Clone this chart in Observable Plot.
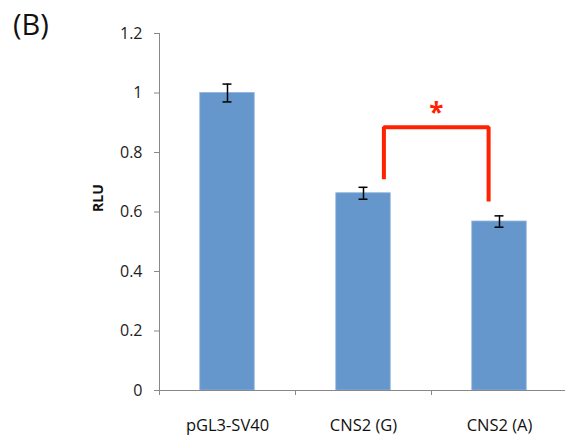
<!DOCTYPE html>
<html>
<head>
<meta charset="utf-8">
<script src="https://cdn.jsdelivr.net/npm/d3@7"></script>
<script src="https://cdn.jsdelivr.net/npm/@observablehq/plot@0.6"></script>
<style>
  html, body { margin: 0; padding: 0; background: #fff; }
  #wrap { position: relative; width: 565px; height: 439px; font-family: "Open Sans", sans-serif; }
  #panel { position: absolute; left: 13px; top: 4px; font-size: 29px; color: #111; }
</style>
</head>
<body>
<div id="wrap"><div id="panel">(B)</div></div>
<script>
const categories = ["pGL3-SV40", "CNS2 (G)", "CNS2 (A)"];
const rlu = [1.0, 0.663, 0.568];
const err = [0.03, 0.02, 0.019];
const yTicks = [0, 0.2, 0.4, 0.6, 0.8, 1.0, 1.2];
// significance bracket between CNS2 (G) and CNS2 (A)
const bracketX = [1.15, 1.92];
const bracketY = [0.71, 0.885, 0.885, 0.635];
const sigLabel = "*";

const data = categories.map((c, i) => ({ c, i, v: rlu[i], e: err[i] }));
const bracket = [
  { x: bracketX[0], y: bracketY[0] },
  { x: bracketX[0], y: bracketY[1] },
  { x: bracketX[1], y: bracketY[2] },
  { x: bracketX[1], y: bracketY[3] }
];
const half = 0.2, cap = 0.033;
const boundaries = d3.range(categories.length + 1).map(k => k - 0.5);

const chart = Plot.plot({
  width: 565,
  height: 439,
  marginTop: 33,
  marginBottom: 49,
  marginLeft: 159,
  marginRight: 0,
  style: { fontFamily: "Open Sans, sans-serif", fontSize: "16px", color: "#222", background: "transparent" },
  x: { type: "linear", domain: [-0.5, 2.5], range: [159, 567], axis: null },
  y: { domain: [0, 1.2], axis: null },
  marks: [
    Plot.rectY(data, { x1: d => d.i - half, x2: d => d.i + half, y1: 0, y2: "v", fill: "#6597cc", stroke: "#8db2dc", strokeWidth: 0.8 }),
    Plot.ruleX(data, { x: "i", y1: d => d.v - d.e, y2: d => d.v + d.e, stroke: "#000", strokeWidth: 1.5 }),
    Plot.ruleY(data, { y: d => d.v + d.e, x1: d => d.i - cap, x2: d => d.i + cap, stroke: "#000", strokeWidth: 1.5 }),
    Plot.ruleY(data, { y: d => d.v - d.e, x1: d => d.i - cap, x2: d => d.i + cap, stroke: "#000", strokeWidth: 1.5 }),
    // axes
    Plot.ruleX([-0.5], { y1: 0, y2: 1.2, stroke: "#888", strokeWidth: 1 }),
    Plot.ruleY([0], { stroke: "#888", strokeWidth: 1 }),
    Plot.axisY({ ticks: yTicks, tickSize: 5, tickPadding: 12, stroke: "#888", tickFormat: d => String(+d.toFixed(1)), fill: "#222", label: null }),
    Plot.axisX({ ticks: boundaries, tickSize: 5, tickFormat: () => "", stroke: "#888", label: null }),
    Plot.text(data, { x: "i", y: 0, text: "c", dy: 35, fontSize: 16.5, fill: "#111" }),
    Plot.text(["RLU"], { frameAnchor: "left", dx: -61, rotate: -90, fontWeight: "bold", fontSize: 14, fill: "#111" }),
    // bracket
    Plot.line(bracket, { x: "x", y: "y", stroke: "#ff2200", strokeWidth: 4, strokeLinejoin: "miter", strokeLinecap: "butt" }),
    Plot.text([sigLabel], { x: (bracketX[0] + bracketX[1]) / 2, y: bracketY[1], dy: -14, fontSize: 26, fontWeight: "bold", fill: "#ff2200" })
  ]
});
document.getElementById("wrap").appendChild(chart);
chart.style.position = "absolute";
chart.style.left = "0";
chart.style.top = "0";
</script>
</body>
</html>
